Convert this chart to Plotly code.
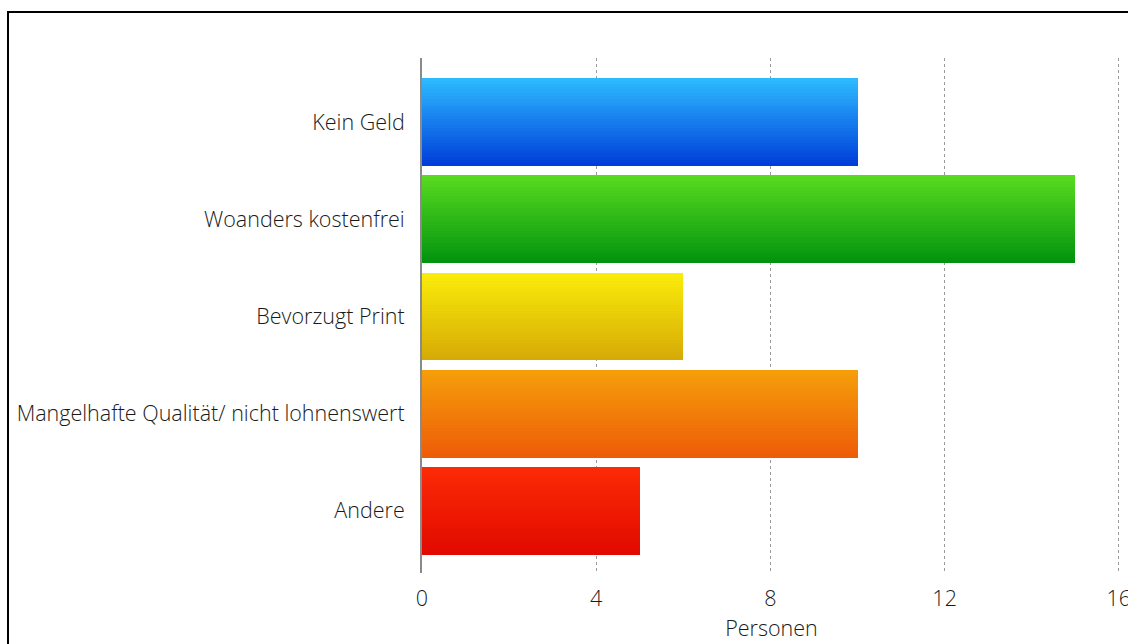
import plotly.graph_objects as go

# Survey answers and counts
categories = ["Kein Geld", "Woanders kostenfrei", "Bevorzugt Print",
              "Mangelhafte Qualität/ nicht lohnenswert", "Andere"]
counts = [10, 15, 6, 10, 5]

# Vertical gradient per bar: (top colour, bottom colour)
top_colors = [(45, 186, 255), (88, 218, 32), (250, 236, 10), (246, 158, 10), (252, 42, 6)]
bottom_colors = [(0, 62, 218), (2, 148, 14), (214, 170, 6), (238, 92, 8), (226, 10, 0)]

x_ticks = [0, 4, 8, 12, 16]

W, H = 1128, 644
M_L, M_R, M_T, M_B = 422, 7, 58, 71
BAR_W = 0.905
N_STRIPS = 30

positions = list(range(len(categories)))


def mix(c0, c1, t):
    return "rgb({},{},{})".format(*[round(a + (b - a) * t) for a, b in zip(c0, c1)])


fig = go.Figure()
step = BAR_W / N_STRIPS
for k in range(N_STRIPS):
    t = k / (N_STRIPS - 1)
    w = step if k == N_STRIPS - 1 else step * 1.4
    fig.add_trace(go.Bar(
        x=counts,
        y=positions,
        orientation="h",
        width=w,
        offset=-BAR_W / 2 + k * step,
        marker=dict(color=[mix(a, b, t) for a, b in zip(top_colors, bottom_colors)],
                    line=dict(width=0)),
        showlegend=False,
        hoverinfo="x+y",
    ))

# black frame around the chart, running off the right and bottom edges
plot_w = W - M_L - M_R
plot_h = H - M_T - M_B
fig.add_shape(type="rect", xref="paper", yref="paper",
              x0=(8 - M_L) / plot_w, x1=1.3,
              y0=-0.5, y1=1 + (M_T - 12) / plot_h,
              line=dict(color="black", width=2), fillcolor="rgba(0,0,0,0)",
              layer="below")

font_family = "Open Sans, Liberation Sans, Helvetica, Arial, sans-serif"
text_font = dict(family=font_family, size=21.5, color="#1a1a1a", weight=300)

fig.update_layout(
    width=W, height=H,
    margin=dict(l=M_L, r=M_R, t=M_T, b=M_B, autoexpand=False),
    barmode="overlay",
    bargap=0,
    plot_bgcolor="white",
    paper_bgcolor="white",
    font=text_font,
    xaxis=dict(
        range=[0, 16.05],
        tickvals=x_ticks,
        ticktext=[str(v) for v in x_ticks],
        tickfont=text_font,
        ticklabeloverflow="allow",
        automargin=False,
        showgrid=True,
        gridcolor="#9a9a9a",
        griddash="dot",
        gridwidth=1,
        zeroline=False,
        showline=False,
        ticks="",
        ticklabelstandoff=10,
        title=dict(text="Personen", standoff=10, font=text_font),
        fixedrange=True,
    ),
    yaxis=dict(
        range=[4.64, -0.66],
        tickvals=positions,
        ticktext=categories,
        tickfont=text_font,
        automargin=False,
        showgrid=False,
        zeroline=False,
        showline=True,
        linecolor="#8a8a8a",
        linewidth=2,
        ticks="",
        ticklabelstandoff=11,
        fixedrange=True,
    ),
)

fig.write_html("out.html")
